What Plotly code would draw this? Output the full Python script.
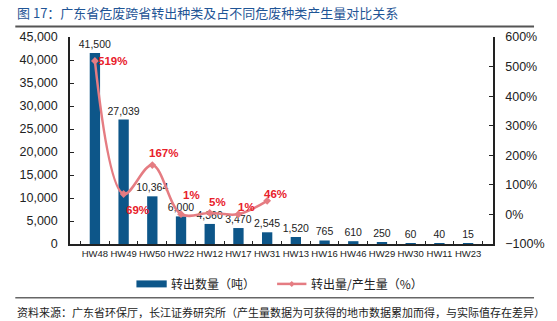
import plotly.graph_objects as go

# Hazardous-waste categories shipped out of Guangdong
categories = ["HW48", "HW49", "HW50", "HW22", "HW12", "HW17", "HW31",
              "HW13", "HW16", "HW46", "HW29", "HW30", "HW11", "HW23"]
# Tonnage transferred out of the province
transfer_tons = [41500, 27039, 10364, 6000, 4360, 3470, 2545,
                 1520, 765, 610, 250, 60, 40, 15]
# Transferred amount as a share of generated amount (%), only for first seven types
transfer_ratio = [519, 69, 167, 1, 5, 1, 46,
                  None, None, None, None, None, None, None]
# Label offsets (px) for the ratio labels
ratio_label_shift = [(18, 0), (14, -16), (11, 12), (10, 19), (8, 11), (8, 7), (8, 7)]

W, H = 557, 321
L, R, T, B = 70, 503, 36.5, 244  # plot area in pixels


def px_x(x):
    return (x - L) / (R - L)


def px_y(y):
    return (B - y) / (B - T)


FONT = "Liberation Sans, Arial, Noto Sans CJK SC, sans-serif"
CJK = "Noto Sans CJK SC, Liberation Sans, sans-serif"
BAR_COLOR = "#0d5689"
LINE_COLOR = "#e57c82"
LABEL_RED = "#e8202a"

fig = go.Figure()

fig.add_trace(go.Bar(
    x=categories, y=transfer_tons, width=0.36,
    marker=dict(color=BAR_COLOR, line=dict(width=0)),
    text=[f"{v:,}" for v in transfer_tons], textposition="outside",
    constraintext="none",
    textfont=dict(family=FONT, size=10.5, color="#222"),
    cliponaxis=False, showlegend=False, name="转出数量（吨）",
))

fig.add_trace(go.Scatter(
    x=categories, y=transfer_ratio, yaxis="y2", mode="lines+markers",
    line=dict(color=LINE_COLOR, width=2.5, shape="spline", smoothing=1.0),
    marker=dict(color=LINE_COLOR, size=6, symbol="diamond"),
    connectgaps=False, cliponaxis=False, showlegend=False, name="转出量/产生量（%）",
))

annotations = []
for cat, val, (dx, dy) in zip(categories, transfer_ratio, ratio_label_shift):
    if val is None:
        continue
    annotations.append(dict(
        x=cat, y=val, xref="x", yref="y2", text=f"<b>{val}%</b>",
        showarrow=False, xshift=dx, yshift=dy,
        font=dict(family=FONT, size=11.5, color=LABEL_RED),
    ))

# Title
annotations.append(dict(
    x=px_x(14), y=px_y(12), xref="paper", yref="paper", xanchor="left", yanchor="middle",
    text="图 17：广东省危废跨省转出种类及占不同危废种类产生量对比关系", showarrow=False,
    font=dict(family=CJK, size=13, color="#1f5596"),
))
# Source note
annotations.append(dict(
    x=px_x(14), y=px_y(312), xref="paper", yref="paper", xanchor="left", yanchor="middle",
    text="资料来源：广东省环保厅，长江证券研究所（产生量数据为可获得的地市数据累加而得，与实际值存在差异）",
    showarrow=False, font=dict(family=CJK, size=11, color="#222"),
))
# Legend texts
annotations.append(dict(
    x=px_x(171), y=px_y(284), xref="paper", yref="paper", xanchor="left", yanchor="middle",
    text="转出数量（吨）", showarrow=False, font=dict(family=CJK, size=12, color="#222"),
))
annotations.append(dict(
    x=px_x(315), y=px_y(284), xref="paper", yref="paper", xanchor="left", yanchor="middle",
    text="转出量/产生量（%）", showarrow=False, font=dict(family=CJK, size=12, color="#222"),
))

shapes = [
    # rule under the title
    dict(type="line", xref="paper", yref="paper", x0=px_x(14), x1=px_x(545),
         y0=px_y(26), y1=px_y(26), line=dict(color="#555", width=2)),
    # rule above the source note
    dict(type="line", xref="paper", yref="paper", x0=px_x(14), x1=px_x(545),
         y0=px_y(298), y1=px_y(298), line=dict(color="#666", width=1.5)),
    # legend swatch: bars
    dict(type="rect", xref="paper", yref="paper", x0=px_x(138), x1=px_x(169),
         y0=px_y(280.5), y1=px_y(287.5), fillcolor=BAR_COLOR, line=dict(width=0)),
    # legend swatch: line
    dict(type="line", xref="paper", yref="paper", x0=px_x(282), x1=px_x(312),
         y0=px_y(284), y1=px_y(284), line=dict(color=LINE_COLOR, width=2.5)),
    dict(type="path", xref="paper", yref="paper",
         path=f"M {px_x(297)} {px_y(281)} L {px_x(300)} {px_y(284)} L {px_x(297)} {px_y(287)} L {px_x(294)} {px_y(284)} Z",
         fillcolor=LINE_COLOR, line=dict(width=0)),
]

fig.update_layout(
    width=W, height=H,
    margin=dict(l=L, r=W - R, t=T, b=H - B, pad=0),
    paper_bgcolor="white", plot_bgcolor="white",
    font=dict(family=FONT, color="#222"),
    bargap=0.64,
    showlegend=False,
    xaxis=dict(
        type="category", showgrid=False, showline=True, linecolor="#222", linewidth=1.5,
        ticks="inside", ticklen=3, tickcolor="#222", tickson="boundaries", tickangle=0,
        tickfont=dict(family=FONT, size=9.5, color="#222"), fixedrange=True,
    ),
    yaxis=dict(
        range=[0, 45000], dtick=5000, tickformat=",", showgrid=False, zeroline=False,
        showline=True, linecolor="#222", linewidth=1.5, ticks="inside", ticklen=4,
        tickcolor="#222", tickfont=dict(family=FONT, size=12.5, color="#222"),
        ticklabelstandoff=8,
    ),
    yaxis2=dict(
        range=[-100, 600], dtick=100, ticksuffix="%", overlaying="y", side="right",
        showgrid=False, zeroline=False, showline=True, linecolor="#222", linewidth=1.5,
        ticks="inside", ticklen=4, tickcolor="#222",
        tickfont=dict(family=FONT, size=12.5, color="#222"), ticklabelstandoff=8,
    ),
    annotations=annotations,
    shapes=shapes,
)

fig.write_html("out.html")
